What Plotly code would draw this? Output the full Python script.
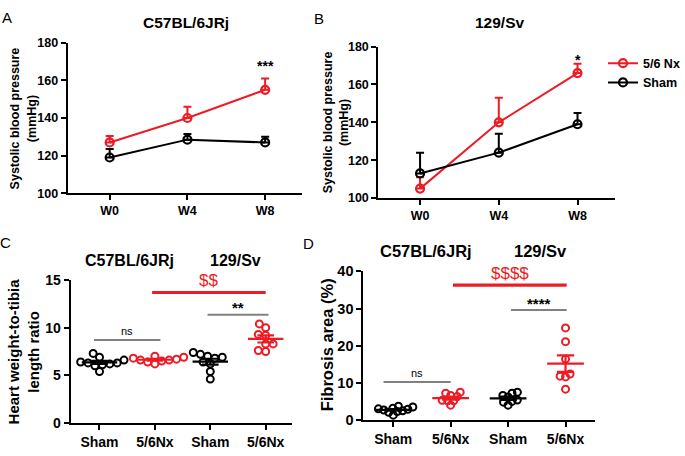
import numpy as np
import plotly.graph_objects as go

W, H = 685, 456
RED = '#ED1C24'
BLACK = '#000000'
GRAY = '#808080'
FONT = 'Arial, Liberation Sans, sans-serif'

# ---------------- data ----------------
weeks = ['W0', 'W4', 'W8']
a_nx = [127, 140, 155]
a_nx_err = [3.5, 6, 6]
a_sham = [119, 128.5, 127]
a_sham_err = [4.5, 3, 3]
b_nx = [105, 140, 166]
b_nx_err = [6, 13, 5]
b_sham = [113, 124, 139]
b_sham_err = [11, 10, 6]
a_stars = '***'
b_stars = '*'

group_labels = ['Sham', '5/6Nx', 'Sham', '5/6Nx']
strain_labels = ['C57BL/6JRj', '129/Sv']

hw_sham_c57 = [7.3, 6.9, 6.6, 6.4, 6.3, 6.3, 6.2, 6.1, 6.0, 5.4]
hw_nx_c57 = [7.0, 6.9, 6.8, 6.7, 6.6, 6.6, 6.5, 6.4, 6.2]
hw_sham_129 = [7.4, 7.2, 7.0, 6.9, 6.8, 6.4, 6.2, 5.4, 4.6]
hw_nx_129 = [10.4, 10.0, 9.3, 9.2, 8.3, 8.3, 7.6, 7.5]

fib_sham_c57 = [3.7, 3.5, 3.2, 3.0, 2.9, 2.7, 2.5, 2.3, 2.1, 1.3]
fib_nx_c57 = [7.5, 7.2, 6.6, 6.3, 5.3, 5.2, 5.2, 4.0]
fib_sham_129 = [7.5, 7.2, 6.6, 6.2, 5.4, 5.0, 4.8, 4.0]
fib_nx_129 = [24.8, 21.1, 16.4, 12.4, 11.8, 11.6, 8.3]

# significance brackets: (x0, x1, y, label, colour-key)
c_brackets = [(-0.1, 1.1, 8.7, 'ns', 'gray'), (0.95, 3.0, 13.7, '$$', 'red'), (1.95, 3.05, 11.35, '**', 'gray')]
d_brackets = [(-0.17, 1.0, 10.2, 'ns', 'gray'), (1.04, 3.02, 36.3, '$$$$', 'red'), (2.05, 3.02, 29.6, '****', 'gray')]

# ---------------- helpers ----------------
def px_dom_x(a, b):
    return [a / W, b / W]

def px_dom_y(top, bot):
    return [1 - bot / H, 1 - top / H]

def swarm(vals, xpx, ypx, d):
    vals = np.asarray(vals, float)
    order = np.argsort(vals)
    placed = []
    offs = np.zeros(len(vals))
    for i in order:
        y = vals[i] * ypx
        cands = [0.0]
        for (px, py) in placed:
            dy = y - py
            if abs(dy) < d:
                dx = np.sqrt(d * d - dy * dy)
                cands += [px + dx, px - dx]
        cands = sorted(cands, key=lambda c: (abs(c), c))
        for c in cands:
            if all((c - px) ** 2 + (y - py) ** 2 >= d * d - 1e-6 for (px, py) in placed):
                break
        placed.append((c, y))
        offs[i] = c / xpx
    return offs

fig = go.Figure()

# ---------------- panels A & B ----------------
def line_panel(xa, ya, nx, nxe, sh, she, legend):
    xs = list(range(len(weeks)))
    for vals, errs, col, name in [(nx, nxe, RED, '5/6 Nx'), (sh, she, BLACK, 'Sham')]:
        fig.add_trace(go.Scatter(
            x=xs, y=vals, mode='lines+markers', name=name, showlegend=legend,
            xaxis=xa, yaxis=ya,
            line=dict(color=col, width=2),
            marker=dict(symbol='circle-open', size=8, color=col, line=dict(width=2.2, color=col)),
            error_y=dict(type='data', symmetric=False, array=errs, arrayminus=[0] * len(errs),
                         color=col, thickness=2, width=4)))

line_panel('x', 'y', a_nx, a_nx_err, a_sham, a_sham_err, False)
line_panel('x2', 'y2', b_nx, b_nx_err, b_sham, b_sham_err, True)

# ---------------- panels C & D ----------------
def dot_panel(xa, ya, groups, xpx, ypx, brackets, dsw):
    cols = [BLACK, RED, BLACK, RED]
    for gi, (vals, col) in enumerate(zip(groups, cols)):
        offs = swarm(vals, xpx, ypx, dsw)
        fig.add_trace(go.Scatter(
            x=gi + offs, y=vals, mode='markers', showlegend=False, xaxis=xa, yaxis=ya,
            marker=dict(symbol='circle-open', size=7, color=col, line=dict(width=2, color=col))))
    for gi, (vals, col) in enumerate(zip(groups, cols)):
        v = np.asarray(vals, float)
        m = v.mean()
        se = v.std(ddof=1) / np.sqrt(len(v))
        xs = [gi - 0.32, gi + 0.32, None, gi - 0.15, gi + 0.15, None, gi - 0.15, gi + 0.15, None, gi, gi]
        ys = [m, m, None, m + se, m + se, None, m - se, m - se, None, m - se, m + se]
        fig.add_trace(go.Scatter(x=xs, y=ys, mode='lines', showlegend=False, xaxis=xa, yaxis=ya,
                                 line=dict(color=col, width=2.2), hoverinfo='skip'))
    for (x0, x1, y, lab, ck) in brackets:
        col = RED if ck == 'red' else GRAY
        wdt = 3.2 if ck == 'red' else 2
        fig.add_trace(go.Scatter(x=[x0, x1], y=[y, y], mode='lines', showlegend=False,
                                 xaxis=xa, yaxis=ya, line=dict(color=col, width=wdt), hoverinfo='skip'))

dot_panel('x3', 'y3', [hw_sham_c57, hw_nx_c57, hw_sham_129, hw_nx_129], 55.7, 9.87, c_brackets, 7.5)
dot_panel('x4', 'y4', [fib_sham_c57, fib_nx_c57, fib_sham_129, fib_nx_129], 57.7, 3.83, d_brackets, 5.5)

# ---------------- axes ----------------
def axis_common(size):
    return dict(showline=True, linecolor='black', linewidth=2, ticks='outside', ticklen=5,
                tickwidth=2, tickcolor='black', showgrid=False, zeroline=False,
                tickfont=dict(family=FONT, size=size, color='black', weight='bold'))

lay = dict(width=W, height=H, margin=dict(l=0, r=0, t=0, b=0),
           paper_bgcolor='white', plot_bgcolor='white', font=dict(family=FONT, color='black'))

lay['xaxis'] = dict(axis_common(12.5), domain=px_dom_x(68, 303), range=[-0.54, 2.47],
                    tickvals=[0, 1, 2], ticktext=weeks, anchor='y')
lay['yaxis'] = dict(axis_common(12.5), domain=px_dom_y(36, 192), range=[100, 180],
                    tickvals=[100, 120, 140, 160, 180], anchor='x')
lay['xaxis2'] = dict(axis_common(12.5), domain=px_dom_x(380, 618), range=[-0.53, 2.48],
                     tickvals=[0, 1, 2], ticktext=weeks, anchor='y2')
lay['yaxis2'] = dict(axis_common(12.5), domain=px_dom_y(40, 197), range=[100, 180],
                     tickvals=[100, 120, 140, 160, 180], anchor='x2')
lay['xaxis3'] = dict(axis_common(14), domain=px_dom_x(71, 293), range=[-0.52, 3.47],
                     tickvals=[0, 1, 2, 3], ticktext=group_labels, anchor='y3')
lay['yaxis3'] = dict(axis_common(14), domain=px_dom_y(282, 430), range=[0, 15],
                     tickvals=[0, 5, 10, 15], anchor='x3')
lay['xaxis4'] = dict(axis_common(14), domain=px_dom_x(365, 598), range=[-0.52, 3.52],
                     tickvals=[0, 1, 2, 3], ticktext=group_labels, anchor='y4')
lay['yaxis4'] = dict(axis_common(14.5), domain=px_dom_y(273, 427), range=[0, 40],
                     tickvals=[0, 10, 20, 30, 40], anchor='x4')

lay['legend'] = dict(x=606 / W, y=1 - 42 / H, xanchor='left', yanchor='top',
                     font=dict(family=FONT, size=12.5, color='black', weight='bold'),
                     bgcolor='rgba(0,0,0,0)', tracegroupgap=0)
fig.update_layout(**lay)

# ---------------- annotations ----------------
def pann(text, x, y, size, bold=True, color='black', angle=0):
    fig.add_annotation(text=text, x=x / W, y=1 - y / H, xref='paper', yref='paper',
                       showarrow=False, xanchor='center', yanchor='middle', textangle=angle,
                       font=dict(family=FONT, size=size, color=color, weight='bold' if bold else 'normal'))

pann('A', 7, 10, 15, bold=False)
pann('B', 320, 11, 15, bold=False)
pann('C', 6, 243, 15, bold=False)
pann('D', 310, 244, 15, bold=False)
pann(strain_labels[0], 187, 15, 15.5)
pann(strain_labels[1], 502, 15, 15.5)
pann(strain_labels[0], 130, 262, 16)
pann(strain_labels[1], 237, 262, 16)
pann(strain_labels[0], 428, 252, 16.5)
pann(strain_labels[1], 543, 252, 16.5)
pann('Systolic blood pressure<br>(mmHg)', 23.5, 114, 12.5, angle=-90)
pann('Systolic blood pressure<br>(mmHg)', 337.5, 118.5, 12.5, angle=-90)
pann('Heart weight-to-tibia<br>length ratio', 24, 356, 15, angle=-90)
pann('Fibrosis area (%)', 328, 349, 16.5, angle=-90)

fig.add_annotation(text=a_stars, x=2, y=167.5, xref='x', yref='y', showarrow=False,
                   font=dict(family=FONT, size=14, color='black', weight='bold'))
fig.add_annotation(text=b_stars, x=2, y=173, xref='x2', yref='y2', showarrow=False,
                   font=dict(family=FONT, size=14, color='black', weight='bold'))

def brack_labels(brackets, xr, yr):
    for (x0, x1, y, lab, ck) in brackets:
        col = RED if ck == 'red' else 'black'
        if lab == 'ns':
            size, wt, dy = 11, 'normal', 9
        elif '$' in lab:
            size, wt, dy = 17, 'normal', 12
        else:
            size, wt, dy = 15, 'bold', 7
        fig.add_annotation(text=lab, x=(x0 + x1) / 2, y=y, xref=xr, yref=yr, showarrow=False,
                           yanchor='middle', yshift=dy,
                           font=dict(family=FONT, size=size, color=col, weight=wt))

brack_labels(c_brackets, 'x3', 'y3')
brack_labels(d_brackets, 'x4', 'y4')

fig.write_html('out.html', config={'displayModeBar': False},
               post_script="document.body.style.margin='0';")
